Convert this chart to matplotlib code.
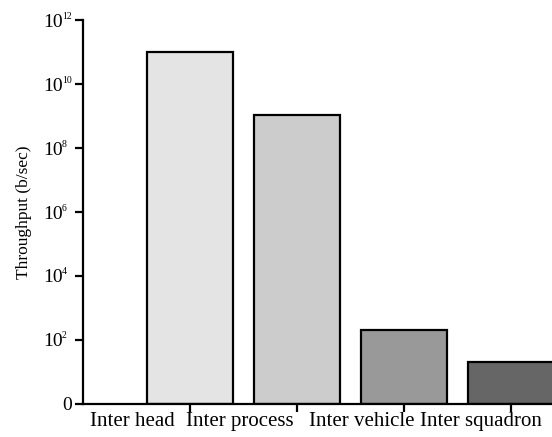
import matplotlib
matplotlib.use("Agg")
import matplotlib.pyplot as plt
import numpy as np

categories = ["Inter head", "Inter process", "Inter vehicle", "Inter squadron"]
values = [1e11, 1.05e9, 205, 19.5]
colors = ["#e4e4e4", "#cccccc", "#999999", "#666666"]
label_x = [0.46, 1.46, 2.6, 3.72]
exponents = [2, 4, 6, 8, 10, 12]

plt.rcParams['font.family'] = ['Liberation Serif', 'DejaVu Serif']

fig = plt.figure(figsize=(5.52, 4.37), dpi=100)
ax = fig.add_axes([83/552, 33/437, 1 - 83/552, 384/437])
pos = np.arange(1, len(values) + 1)
ax.bar(pos, values, width=0.8, color=colors, edgecolor='black', linewidth=1.6, bottom=1)
ax.set_yscale('log')
ax.set_ylim(1, 1e12)
ax.set_xlim(0, 4.38)
ax.set_yticks([1.0] + [10.0 ** e for e in exponents])
ax.set_yticklabels([""] * (len(exponents) + 1))
ax.minorticks_off()
ytr = ax.get_yaxis_transform()
ax.annotate("0", (0, 1.0), xycoords=ytr, xytext=(-11, -1), textcoords='offset pixels',
            ha='right', va='center', fontsize=14, annotation_clip=False)
for e in exponents:
    ax.annotate("10", (0, 10.0 ** e), xycoords=ytr, xytext=(-20, -2), textcoords='offset pixels',
                ha='right', va='center', fontsize=14, annotation_clip=False)
    ax.annotate(str(e), (0, 10.0 ** e), xycoords=ytr, xytext=(-21, 4), textcoords='offset pixels',
                ha='left', va='center', fontsize=7, annotation_clip=False)
ax.set_xticks(pos)
ax.set_xticklabels([""] * len(pos))
for x, c in zip(label_x, categories):
    ax.text(x, -0.022, c, transform=ax.get_xaxis_transform(), ha='center', va='top', fontsize=15)
for s in ['top', 'right']:
    ax.spines[s].set_visible(False)
for s in ['left', 'bottom']:
    ax.spines[s].set_linewidth(1.6)
ax.tick_params(axis='both', direction='out', length=6, width=1.6)
ax.set_ylabel("Throughput (b/sec)", fontsize=12.5, labelpad=27)
fig.savefig("out.png", dpi=100)
